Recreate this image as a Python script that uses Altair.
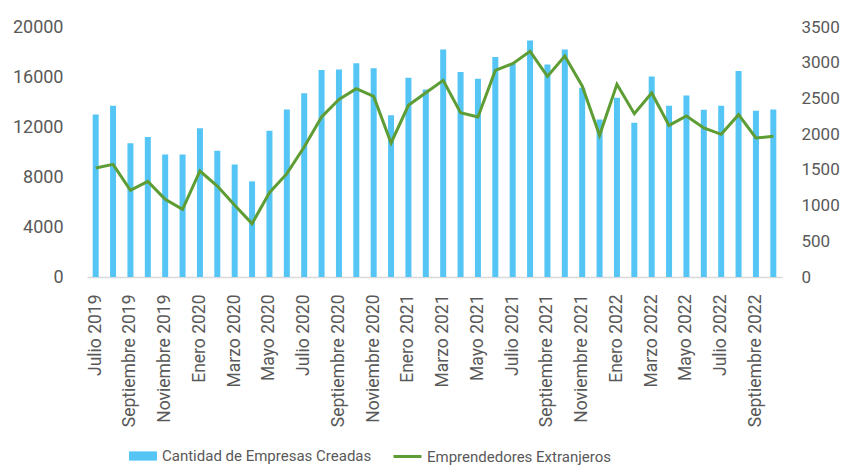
import altair as alt
import pandas as pd

meses = [
    "Julio 2019", "Agosto 2019", "Septiembre 2019", "Octubre 2019", "Noviembre 2019", "Diciembre 2019",
    "Enero 2020", "Febrero 2020", "Marzo 2020", "Abril 2020", "Mayo 2020", "Junio 2020",
    "Julio 2020", "Agosto 2020", "Septiembre 2020", "Octubre 2020", "Noviembre 2020", "Diciembre 2020",
    "Enero 2021", "Febrero 2021", "Marzo 2021", "Abril 2021", "Mayo 2021", "Junio 2021",
    "Julio 2021", "Agosto 2021", "Septiembre 2021", "Octubre 2021", "Noviembre 2021", "Diciembre 2021",
    "Enero 2022", "Febrero 2022", "Marzo 2022", "Abril 2022", "Mayo 2022", "Junio 2022",
    "Julio 2022", "Agosto 2022", "Septiembre 2022", "Octubre 2022",
]

empresas = [
    13000, 13700, 10700, 11200, 9800, 9800,
    11900, 10100, 9000, 7650, 11700, 13400,
    14700, 16560, 16600, 17100, 16700, 12950,
    15950, 15000, 18200, 16400, 15870, 17600,
    17070, 18930, 17000, 18200, 15150, 12600,
    14350, 12350, 16050, 13700, 14530, 13390,
    13700, 16480, 13300, 13400,
]

extranjeros = [
    1526, 1577, 1213, 1339, 1087, 947,
    1484, 1274, 1003, 747, 1181, 1447,
    1820, 2240, 2487, 2637, 2529, 1876,
    2403, 2580, 2753, 2301, 2240, 2893,
    2987, 3159, 2809, 3094, 2674, 1983,
    2697, 2287, 2576, 2123, 2254, 2086,
    1997, 2273, 1946, 1969,
]

etiquetas = meses[::2]
izq_ticks = [0, 4000, 8000, 12000, 16000, 20000]
der_ticks = [0, 500, 1000, 1500, 2000, 2500, 3000, 3500]

serie_barras = "Cantidad de Empresas Creadas"
serie_linea = "Emprendedores Extranjeros"

df = pd.DataFrame({
    "mes": meses,
    "empresas": empresas,
    "extranjeros": extranjeros,
    "s1": serie_barras,
    "s2": serie_linea,
})

FONT = "Roboto"
GRIS = "#595959"
AZUL = "#55C5F6"
VERDE = "#5E9C34"

x_enc = alt.X(
    "mes:N", sort=meses, title=None,
    scale=alt.Scale(paddingInner=0, paddingOuter=0),
    axis=alt.Axis(values=etiquetas, labelAngle=270, ticks=False, labelPadding=17,
                  domainColor="#D9D9D9", domainWidth=1.5, labelFontSize=17.5,
                  labelColor=GRIS, labelFont=FONT, labelOverlap=False),
)

barras = alt.Chart(df).mark_bar(size=6).encode(
    x=x_enc,
    y=alt.Y("empresas:Q", title=None,
            scale=alt.Scale(domain=[0, 20000], nice=False),
            axis=alt.Axis(values=izq_ticks, format="d", orient="left", domain=False, ticks=False,
                          grid=False, labelPadding=24, labelFontSize=18,
                          labelColor=GRIS, labelFont=FONT)),
    color=alt.Color("s1:N", scale=alt.Scale(range=[AZUL]),
                    legend=alt.Legend(title=None, orient="none", legendX=41, legendY=414,
                                      symbolType="M-1,-0.33H1V0.33H-1Z", symbolSize=784,
                                      labelFontSize=15, labelColor=GRIS, labelFont=FONT,
                                      labelOffset=4, labelLimit=400)),
)

linea = alt.Chart(df).mark_line(strokeWidth=3).encode(
    x=alt.X("mes:N", sort=meses),
    y=alt.Y("extranjeros:Q", title=None,
            scale=alt.Scale(domain=[0, 3500], nice=False),
            axis=alt.Axis(values=der_ticks, format="d", orient="right", domain=False, ticks=False,
                          grid=False, labelPadding=19, labelFontSize=17,
                          labelColor=GRIS, labelFont=FONT)),
    stroke=alt.Stroke("s2:N", scale=alt.Scale(range=[VERDE]),
                      legend=alt.Legend(title=None, orient="none", legendX=305, legendY=414,
                                        symbolType="stroke", symbolSize=784,
                                        symbolStrokeWidth=3,
                                        labelFontSize=15, labelColor=GRIS, labelFont=FONT,
                                        labelOffset=4, labelLimit=400)),
)

chart = alt.layer(barras, linea).resolve_scale(
    y="independent", color="independent", stroke="independent"
).properties(
    width=695, height=250,
    autosize=alt.AutoSizeParams(type="none"),
    padding={"left": 79, "top": 19, "right": 58, "bottom": 190},
).configure_view(stroke=None)

chart.save("out.html", embed_options={"renderer": "svg", "actions": False})
